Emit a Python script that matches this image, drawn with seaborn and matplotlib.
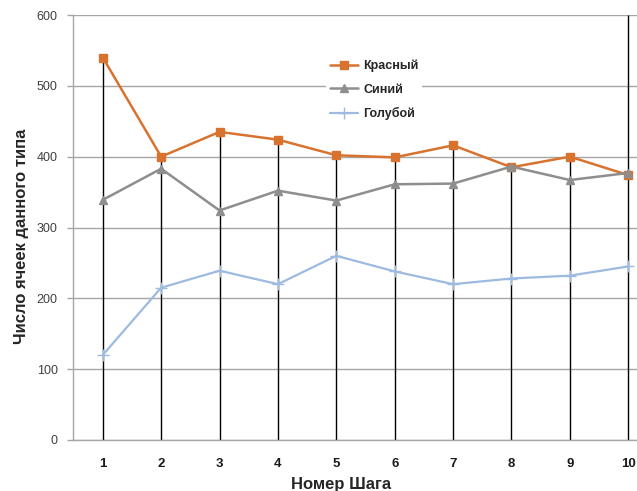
import numpy as np
import pandas as pd
import matplotlib
matplotlib.use("Agg")
import matplotlib.pyplot as plt
import seaborn as sns

steps = [1, 2, 3, 4, 5, 6, 7, 8, 9, 10]
red = [540, 400, 435, 424, 402, 399, 416, 385, 400, 374]
dark_blue = [339, 383, 324, 352, 338, 361, 362, 386, 367, 377]
light_blue = [120, 215, 239, 220, 260, 238, 220, 228, 232, 245]
series_names = ["Красный", "Синий", "Голубой"]
y_ticks = [0, 100, 200, 300, 400, 500, 600]

sns.set_theme(style="white")
plt.rcParams["font.family"] = ["Liberation Sans", "DejaVu Sans"]

fig = plt.figure(figsize=(6.37, 4.91), dpi=100)
ax = fig.add_axes([73 / 637, 1 - 440 / 491, 1 - 73 / 637, (440 - 15) / 491])

colors = ["#D8732F", "#8E8E8E", "#9DBAE0"]
markers = ["s", "^", "+"]

# horizontal gridlines
for v in y_ticks:
    ax.axhline(v, color="#A6A6A6", lw=1.0, zorder=0)

# drop lines from the highest series value at each step
tops = np.max(np.vstack([red, dark_blue, light_blue]), axis=0).astype(float)
tops[-1] = y_ticks[-1]
ax.vlines(steps, 0, tops, color="black", lw=1.0, zorder=1)

for name, values, c, m in zip(series_names, [red, dark_blue, light_blue], colors, markers):
    d = pd.DataFrame({"step": steps, "count": values})
    sns.lineplot(data=d, x="step", y="count", color=c, marker=m,
                 lw=1.8 if m != "+" else 1.6,
                 markersize=6 if m != "+" else 8,
                 markeredgewidth=1.0,
                 markeredgecolor=c, ax=ax, zorder=3, label=name)

ax.set_xlim(0.49, 10.15)
ax.set_ylim(0, 600)
ax.set_yticks(y_ticks)
ax.set_xticks(steps)
ax.tick_params(axis="y", labelsize=9, colors="#404040", length=4, width=1,
               direction="out", left=True, pad=7, color="#A6A6A6")
ax.tick_params(axis="x", labelsize=9.5, length=0, pad=13)
for lbl in ax.get_yticklabels():
    lbl.set_color("#404040")
for lbl in ax.get_xticklabels():
    lbl.set_fontweight("bold")
    lbl.set_color("#1a1a1a")

for s in ["top", "right"]:
    ax.spines[s].set_visible(False)
ax.spines["left"].set_color("#A6A6A6")
ax.spines["bottom"].set_color("#A6A6A6")
ax.spines["left"].set_linewidth(1.0)
ax.spines["bottom"].set_linewidth(1.0)

ax.set_xlabel("Номер Шага", fontsize=12, fontweight="bold", va="top")
ax.set_ylabel("Число ячеек данного типа", fontsize=12, fontweight="bold",
              va="center")
ax.xaxis.set_label_coords((341 - 73) / 564, -(477 - 440) / 425)
ax.yaxis.set_label_coords(-(73 - 22) / 564, (440 - 236) / 425)

handles, labels = ax.get_legend_handles_labels()
leg = ax.legend(handles, labels, loc="upper left",
                bbox_to_anchor=((320 - 73) / 564, 1 - (50 - 15) / 425),
                frameon=True, facecolor="white", edgecolor="none",
                fontsize=9, handlelength=2.2, handletextpad=0.45,
                labelspacing=0.9, borderpad=0.3, framealpha=1.0)
for t in leg.get_texts():
    t.set_fontweight("bold")
leg.set_zorder(2)

fig.savefig("out.png", dpi=100)
